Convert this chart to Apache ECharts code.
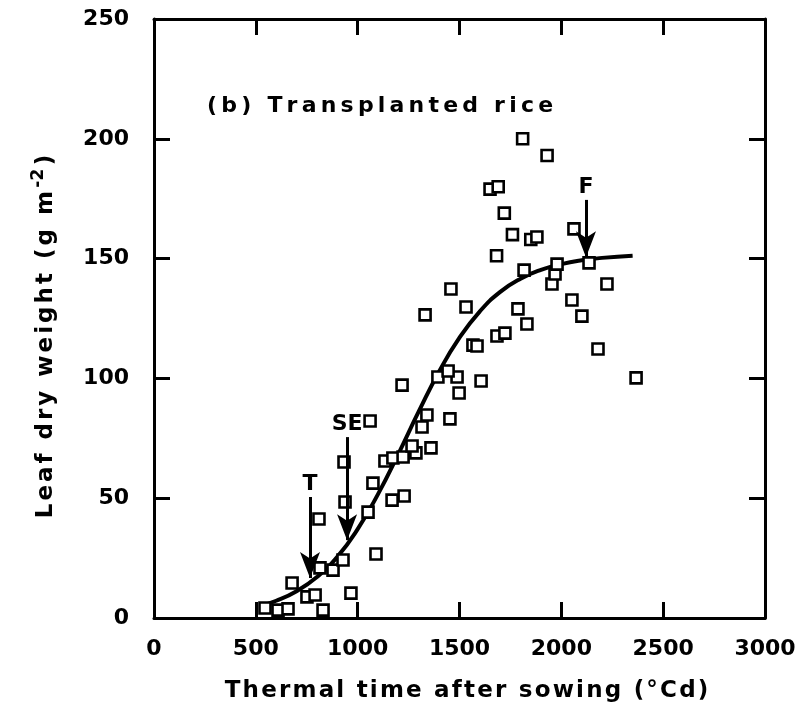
<!DOCTYPE html>
<html>
<head>
<meta charset="utf-8">
<script src="https://cdn.jsdelivr.net/npm/echarts@6/dist/echarts.min.js"></script>
<style>
  html, body { margin: 0; padding: 0; background: #fff; }
  #chart { width: 807px; height: 709px; }
</style>
</head>
<body>
<div id="chart"></div>
<script>
// Observed leaf dry weight (g m-2) against thermal time (°Cd)
const obsTime = [545, 609, 658, 830, 678, 751, 791, 967, 815, 879, 928, 1090, 810, 1051, 938, 1169,
  1228, 1075, 933, 1134, 1173, 1223, 1286, 1267, 1360, 1316, 1340, 1453, 1061, 1218, 1498, 1394,
  1488, 1444, 1606, 1566, 1586, 1684, 1723, 1787, 1831, 1331, 1532, 1458, 2180, 2367, 2052, 2101,
  2224, 2136, 1954, 1969, 1979, 1817, 2062, 1682, 1650, 1690, 1720, 1760, 1810, 1850, 1880, 1930];
const obsWeight = [4.2, 3.3, 3.8, 3.3, 14.6, 8.8, 9.6, 10.4, 20.9, 20.0, 24.2, 26.7, 41.3, 44.2, 48.4, 49.2,
  50.9, 56.3, 65.1, 65.5, 66.8, 67.2, 68.9, 71.8, 71.0, 79.7, 84.7, 83.1, 82.2, 97.2, 93.9, 100.6,
  100.6, 103.1, 98.9, 113.9, 113.5, 117.7, 118.9, 129.0, 122.7, 126.5, 129.8, 137.3, 112.3, 100.2, 132.7, 126.0,
  139.4, 148.2, 139.4, 143.6, 147.7, 145.2, 162.4, 151.2, 179, 180, 169, 160, 200, 158, 159, 193];

// Fitted growth curve
const fitTime = [520, 600, 700, 800, 900, 1000, 1100, 1200, 1300, 1400, 1500, 1600, 1700, 1800, 1900, 2000, 2100, 2200, 2350];
const fitWeight = [5.0, 7.2, 11.2, 17.1, 25.5, 37.1, 51.7, 68.5, 86.2, 102.9, 117.0, 128.0, 136.1, 141.6, 145.3, 147.7, 149.3, 150.3, 151.2];

// Development stage arrows: label, time, arrow top, arrow tip
const stageNames = ['T', 'SE', 'F'];
const stageTime = [766, 948, 2121];
const stageTop = [50.5, 75.5, 174.5];
const stageTip = [16.7, 32.5, 150.6];

const xTicks = { min: 0, max: 3000, interval: 500 };
const yTicks = { min: 0, max: 250, interval: 50 };

const FONT = 'DejaVu Sans';

// Wrap every character in its own rich token so the text gets letter spacing
function spaced(str, key) {
  return str.split('').map(c => '{' + key + '|' + c + '}').join('');
}
function spacedStyle(size, gap) {
  return { fontFamily: FONT, fontWeight: 'bold', fontSize: size, color: '#000', padding: [0, gap, 0, gap] };
}

const chart = echarts.init(document.getElementById('chart'), null, { renderer: 'canvas' });

const frameLine = { show: true, onZero: false, lineStyle: { color: '#000', width: 3 } };
const inTick = { show: true, inside: true, length: 16, lineStyle: { color: '#000', width: 3 } };
const tickFont = { color: '#000', fontFamily: FONT, fontWeight: 'bold', fontSize: 22 };

chart.setOption({
  backgroundColor: '#fff',
  animation: false,
  grid: { left: 154, right: 42, top: 19, bottom: 91 },
  title: {
    text: spaced('(b) Transplanted rice', 't'),
    left: 200, top: 90,
    textStyle: { fontFamily: FONT, fontWeight: 'bold', fontSize: 22, color: '#000', rich: { t: spacedStyle(22, 2.1) } }
  },
  xAxis: [{
    type: 'value', position: 'bottom', ...xTicks,
    axisLine: frameLine, axisTick: inTick, splitLine: { show: false },
    axisLabel: { margin: 20, ...tickFont, formatter: v => String(v) },
    name: spaced('Thermal time after sowing (°Cd)', 'n'), nameLocation: 'middle', nameGap: 62,
    nameTextStyle: {
      color: '#000', fontFamily: FONT, fontWeight: 'bold', fontSize: 23, padding: [0, 0, 0, 14],
      rich: { n: spacedStyle(23, 1.1) }
    }
  }, {
    type: 'value', position: 'top', ...xTicks,
    axisLine: frameLine, axisTick: inTick, axisLabel: { show: false }, splitLine: { show: false }
  }],
  yAxis: [{
    type: 'value', position: 'left', ...yTicks,
    axisLine: frameLine, axisTick: inTick, splitLine: { show: false },
    axisLabel: { margin: 25, ...tickFont, formatter: v => String(v) },
    name: spaced('Leaf dry weight (g m', 'n') + '{sup|-2}' + spaced(')', 'n'),
    nameLocation: 'middle', nameGap: 91,
    nameTextStyle: {
      color: '#000', fontFamily: FONT, fontWeight: 'bold', fontSize: 23, padding: [0, 36, 0, 0],
      rich: {
        n: spacedStyle(23, 1.5),
        sup: { fontFamily: FONT, fontWeight: 'bold', fontSize: 17, color: '#000', verticalAlign: 'top', padding: [0, 2, 16, 2] }
      }
    }
  }, {
    type: 'value', position: 'right', ...yTicks,
    axisLine: frameLine, axisTick: inTick, axisLabel: { show: false }, splitLine: { show: false }
  }],
  series: [{
    type: 'line',
    data: fitTime.map((t, i) => [t, fitWeight[i]]),
    smooth: true, showSymbol: false, symbol: 'none',
    lineStyle: { color: '#000', width: 4 },
    z: 3,
    markLine: {
      silent: true, symbol: ['none', 'arrow'], symbolSize: [15, 26],
      lineStyle: { color: '#000', width: 3, type: 'solid', opacity: 1 },
      label: { show: false },
      data: stageNames.map((n, i) => [
        { coord: [stageTime[i], stageTop[i]] },
        { coord: [stageTime[i], stageTip[i]] }
      ])
    }
  }, {
    type: 'scatter',
    data: obsTime.map((t, i) => [t, obsWeight[i]]),
    symbol: 'rect', symbolSize: 11,
    itemStyle: { color: '#fff', borderColor: '#000', borderWidth: 2.6, opacity: 1 },
    z: 4
  }, {
    type: 'scatter',
    data: stageNames.map((n, i) => ({ value: [stageTime[i], stageTop[i]], name: n })),
    symbolSize: 0,
    itemStyle: { opacity: 1 },
    label: {
      show: true, position: 'top', distance: 2, formatter: p => p.name,
      color: '#000', fontFamily: FONT, fontWeight: 'bold', fontSize: 22
    },
    z: 5
  }]
});
</script>
</body>
</html>
